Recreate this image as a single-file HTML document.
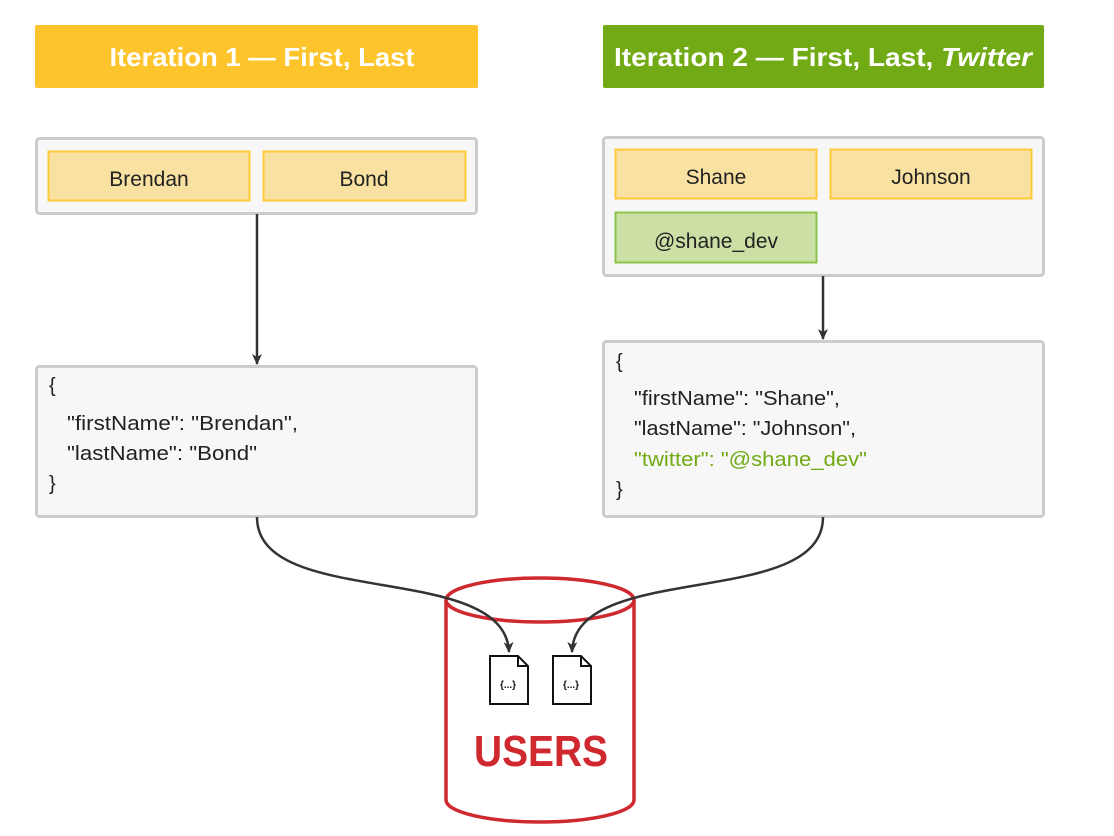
<!DOCTYPE html>
<html><head><meta charset="utf-8"><style>html,body{margin:0;padding:0;background:#fff;width:1114px;height:836px;overflow:hidden}</style></head>
<body>
<svg width="1114" height="836" viewBox="0 0 1114 836" xmlns="http://www.w3.org/2000/svg" font-family="Liberation Sans, sans-serif">
<defs><marker id="ah" markerWidth="12" markerHeight="12" refX="10" refY="5" orient="auto" markerUnits="userSpaceOnUse"><path d="M0,0 L11,5 L0,10 L3,5 Z" fill="#333"/></marker></defs>
<!-- headers -->
<rect x="35" y="25" width="443" height="63" rx="2" fill="#FDC42C"/>
<text x="262" y="66" fill="#fff" font-size="26" font-weight="bold" text-anchor="middle" textLength="305" lengthAdjust="spacingAndGlyphs">Iteration 1 — First, Last</text>
<rect x="603" y="25" width="441" height="63" rx="2" fill="#72AA15"/>
<text x="823" y="66" fill="#fff" font-size="26" font-weight="bold" text-anchor="middle" textLength="418" lengthAdjust="spacingAndGlyphs">Iteration 2 — First, Last, <tspan font-style="italic">Twitter</tspan></text>
<!-- panel 1 -->
<rect x="36.5" y="138.5" width="440" height="75" rx="3" fill="#f7f7f7" stroke="#ccc" stroke-width="3"/>
<rect x="48.5" y="151.5" width="201" height="49" fill="#F9E2A1" stroke="#FFC838" stroke-width="2"/>
<rect x="263.5" y="151.5" width="202" height="49" fill="#F9E2A1" stroke="#FFC838" stroke-width="2"/>
<text x="149" y="186" font-size="21" fill="#222" text-anchor="middle">Brendan</text>
<text x="364" y="186" font-size="21" fill="#222" text-anchor="middle">Bond</text>
<!-- panel 2 -->
<rect x="603.5" y="137.5" width="440" height="138" rx="3" fill="#f7f7f7" stroke="#ccc" stroke-width="3"/>
<rect x="615.5" y="149.5" width="201" height="49" fill="#F9E2A1" stroke="#FFC838" stroke-width="2"/>
<rect x="830.5" y="149.5" width="201" height="49" fill="#F9E2A1" stroke="#FFC838" stroke-width="2"/>
<rect x="615.5" y="212.5" width="201" height="50" fill="#CCE0A5" stroke="#8BC34A" stroke-width="2"/>
<text x="716" y="184" font-size="21" fill="#222" text-anchor="middle">Shane</text>
<text x="931" y="184" font-size="21" fill="#222" text-anchor="middle">Johnson</text>
<text x="716" y="248" font-size="21" fill="#222" text-anchor="middle">@shane_dev</text>
<!-- arrows -->
<line x1="257" y1="214" x2="257" y2="364" stroke="#333" stroke-width="2.5" marker-end="url(#ah)"/>
<line x1="823" y1="276" x2="823" y2="339" stroke="#333" stroke-width="2.5" marker-end="url(#ah)"/>
<!-- json boxes -->
<rect x="36.5" y="366.5" width="440" height="150" rx="3" fill="#f7f7f7" stroke="#ccc" stroke-width="3"/>
<g font-size="20" fill="#222">
<text x="49" y="392">{</text>
<text x="67" y="430" textLength="231" lengthAdjust="spacingAndGlyphs">"firstName": "Brendan",</text>
<text x="67" y="460" textLength="190" lengthAdjust="spacingAndGlyphs">"lastName": "Bond"</text>
<text x="49" y="490">}</text>
</g>
<rect x="603.5" y="341.5" width="440" height="175" rx="3" fill="#f7f7f7" stroke="#ccc" stroke-width="3"/>
<g font-size="20" fill="#222">
<text x="616" y="368">{</text>
<text x="634" y="405" textLength="206" lengthAdjust="spacingAndGlyphs">"firstName": "Shane",</text>
<text x="634" y="435" textLength="222" lengthAdjust="spacingAndGlyphs">"lastName": "Johnson",</text>
<text x="634" y="466" fill="#72AA15" textLength="233" lengthAdjust="spacingAndGlyphs">"twitter": "@shane_dev"</text>
<text x="616" y="496">}</text>
</g>
<!-- cylinder -->
<g stroke="#D0282F" stroke-width="3.5" fill="#fff">
<path d="M446,600 L446,800 A94,22 0 0 0 634,800 L634,600"/>
<ellipse cx="540" cy="600" rx="94" ry="22"/>
</g>
<!-- curves -->
<path d="M257,517 C257,610 505,560 509,652" fill="none" stroke="#333" stroke-width="2.5" marker-end="url(#ah)"/>
<path d="M823,517 C823,610 575,560 572,652" fill="none" stroke="#333" stroke-width="2.5" marker-end="url(#ah)"/>
<!-- docs -->
<g fill="#fff" stroke="#111" stroke-width="2">
<path d="M490,656 L518,656 L528,666 L528,704 L490,704 Z"/><path d="M518,656 L518,666 L528,666" fill="none"/>
<path d="M553,656 L581,656 L591,666 L591,704 L553,704 Z"/><path d="M581,656 L581,666 L591,666" fill="none"/>
</g>
<text x="508" y="688" font-size="10" font-weight="bold" text-anchor="middle" fill="#111">{...}</text>
<text x="571" y="688" font-size="10" font-weight="bold" text-anchor="middle" fill="#111">{...}</text>
<text x="541" y="766" font-size="44" font-weight="bold" fill="#D0282F" text-anchor="middle" textLength="134" lengthAdjust="spacingAndGlyphs">USERS</text>
</svg>
</body></html>
